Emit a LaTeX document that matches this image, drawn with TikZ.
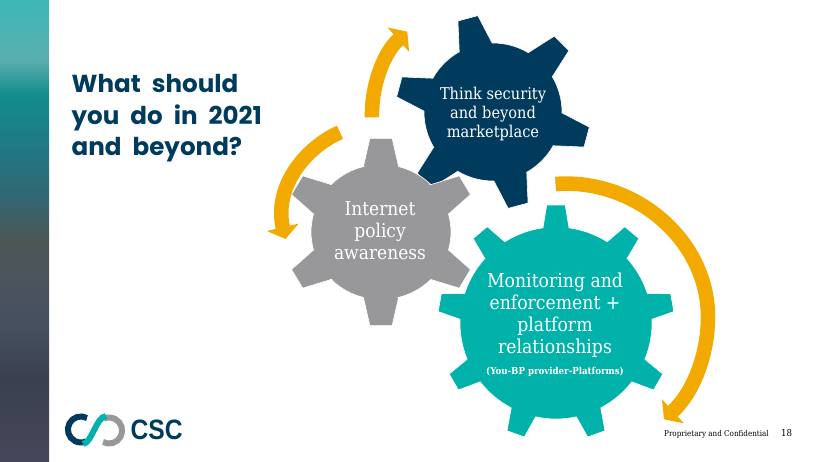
\documentclass[tikz,border=0pt]{standalone}
\usepackage{fontspec}
\setmainfont{DejaVu Serif Condensed}
\newfontfamily\titlefont[WordSpace=2.1]{Poppins}
\newfontfamily\brandfont{Liberation Sans}
\usetikzlibrary{arrows.meta, positioning}

\definecolor{gearnavy}{HTML}{003A5D}
\definecolor{geargray}{HTML}{98989A}
\definecolor{gearteal}{HTML}{00B2A9}
\definecolor{arrowgold}{HTML}{F2A900}

\pgfdeclareverticalshading{sidebar}{100bp}{
  rgb(0bp)=(0.27,0.28,0.35);
  rgb(25bp)=(0.27,0.28,0.35);
  rgb(33.9bp)=(0.23,0.25,0.31);
  rgb(39.3bp)=(0.27,0.31,0.37);
  rgb(45.8bp)=(0.30,0.33,0.36);
  rgb(49bp)=(0.30,0.34,0.33);
  rgb(53.4bp)=(0.20,0.40,0.45);
  rgb(58.8bp)=(0.13,0.47,0.52);
  rgb(64.7bp)=(0.07,0.55,0.55);
  rgb(68.5bp)=(0.36,0.68,0.68);
  rgb(71bp)=(0.31,0.70,0.70);
  rgb(75bp)=(0.24,0.72,0.72);
  rgb(100bp)=(0.24,0.72,0.72)}

\tikzset{
  gearline/.style={draw=white, line width=0.6pt},
  geartext/.style={text=white, align=center, inner sep=0pt},
  goldarrow/.style={draw=arrowgold, line width=14.5pt, -{Triangle[length=12pt,width=32pt]}},
  logoarc/.style={line width=6pt}
}

% #1 options, #2 teeth, #3 first angle, #4 body radius, #5 tip radius, #6 base half width, #7 tip half width
\newcommand{\gearpath}[7][]{%
  \pgfmathsetmacro{\gearstep}{360/#2}
  \pgfmathsetmacro{\gearbase}{asin(#6/#4)}
  \pgfmathsetmacro{\geartip}{atan(#7/#5)}
  \pgfmathsetmacro{\geartop}{veclen(#5,#7)}
  \draw[gearline,#1] (#3-\gearbase:#4)
    \foreach \k [evaluate=\k as \a using #3+(\k-1)*\gearstep] in {1,...,#2} {
      -- (\a-\gearbase:#4) -- (\a-\geartip:\geartop) -- (\a+\geartip:\geartop) -- (\a+\gearbase:#4)
      arc[start angle=\a+\gearbase, delta angle=\gearstep-2*\gearbase, radius=#4]
    } -- cycle;
}

\begin{document}
\begin{tikzpicture}[x=1pt, y=-1pt]
    \useasboundingbox (0,0) rectangle (820,462);
    \shade[shading=sidebar] (0,0) rectangle (49,462);

    % title
    \node[anchor=base west, inner sep=0pt, text=gearnavy, font=\titlefont\bfseries\fontsize{24.6}{31.5}\selectfont, align=left] (title) at (71.5,155.7) {What should\\you do in 2021\\and beyond?};

    % gears
    \gearpath[fill=gearnavy, shift={(493,112)}]{6}{-105}{69}{97}{17}{10.3}
    \gearpath[fill=geargray, shift={(381,232)}, xscale=1.035]{6}{-90}{67.6}{93.6}{17}{10.8}
    \gearpath[fill=gearteal, shift={(556,323)}]{9}{-90}{96}{118}{13}{9.2}

    \node[geartext, font=\fontsize{16.2}{18.7}\selectfont] (think) at (493,114) {Think security\\and beyond\\marketplace};
    \node[geartext, font=\fontsize{19}{22.2}\selectfont] (internet) at (380,231) {Internet\\policy\\awareness};
    \node[geartext, font=\fontsize{19.2}{22}\selectfont] (monitor) at (555,315) {Monitoring and\\enforcement +\\platform\\relationships};
    \node[geartext, font=\bfseries\fontsize{9.6}{12}\selectfont, below=10pt of monitor] (youbp) {(You-BP provider-Platforms)};

    % arrows
    \coordinate (arcastart) at (555.5,184);
    \coordinate (arcamid) at (708,317);
    \coordinate (arcaend) at (664,419.3);
    \coordinate (arcbstart) at (372,117.3);
    \coordinate (arcbend) at (407.3,31.7);
    \coordinate (arccstart) at (340,132.3);
    \coordinate (arccend) at (285.5,239);

    \draw[goldarrow] (arcastart) .. controls (635,178) and (708,240) .. (arcamid) .. controls (708,355) and (693,393) .. (arcaend);
    \draw[goldarrow] (arcbstart) .. controls (371,92) and (381,55) .. (arcbend);
    \draw[goldarrow] (arccstart) .. controls (308,146) and (273,185) .. (arccend);

    % logo
    \draw[logoarc, draw=gearnavy] (87,418) arc[start angle=-62, delta angle=-232, radius=13] coordinate (logoa);
    \draw[logoarc, draw=geargray] (103,442) arc[start angle=118, delta angle=-232, radius=13] coordinate (logob);
    \draw[logoarc, draw=gearteal] (106,416) .. controls (96,417) and (92,443) .. (83,444);
    \node[anchor=base west, inner sep=0pt, text=gearnavy, font=\brandfont\bfseries\fontsize{28}{28}\selectfont, xscale=0.88] (brand) at (130.5,439.5) {CSC};

    % footer
    \node[anchor=base west, inner sep=0pt, font=\fontsize{8}{9}\selectfont] (footer) at (664,437) {Proprietary and Confidential};
    \node[inner sep=0pt, font=\fontsize{9.6}{10}\selectfont, right=12pt of footer.base east, anchor=base west] (pagenum) {18};
\end{tikzpicture}
\end{document}
